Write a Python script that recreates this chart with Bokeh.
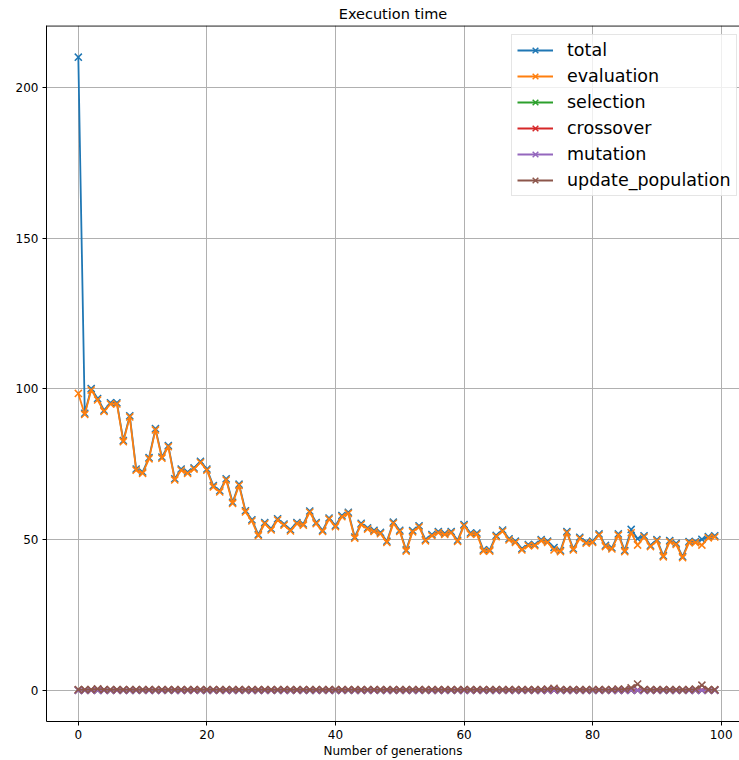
from bokeh.plotting import figure
from bokeh.models import Range1d, FixedTicker, Span, Legend
from bokeh.embed import file_html
from bokeh.resources import INLINE

generations = list(range(100))

total = [210.0, 91.9, 100.1, 96.8, 92.9, 95.4, 95.4, 82.9, 91.1, 73.4,
         72.4, 77.2, 86.8, 77.4, 81.2, 70.2, 73.4, 72.4, 73.8, 76.0,
         73.4, 67.9, 66.2, 70.2, 62.4, 68.4, 59.6, 56.6, 51.7, 55.7,
         53.6, 56.9, 55.2, 53.3, 55.7, 55.2, 59.5, 55.7, 53.1, 57.2,
         54.7, 58.0, 59.1, 50.9, 55.4, 53.9, 53.1, 52.4, 49.5, 55.8,
         53.1, 46.6, 53.0, 54.6, 50.0, 51.7, 52.7, 52.1, 52.7, 49.8,
         55.0, 52.2, 52.2, 46.6, 46.6, 51.4, 53.2, 50.3, 49.5, 47.0,
         48.4, 48.4, 50.0, 49.5, 47.4, 46.4, 52.7, 47.0, 50.8, 49.2,
         49.5, 51.9, 48.1, 47.3, 51.9, 46.4, 53.4, 50.3, 51.3, 48.1,
         50.0, 44.7, 49.7, 48.8, 44.4, 49.4, 49.4, 50.1, 51.0, 51.3]

evaluation = [98.5, 91.5, 99.6, 96.3, 92.5, 95.0, 95.0, 82.5, 90.7, 73.0,
              72.0, 76.8, 86.4, 77.0, 80.8, 69.8, 73.0, 72.0, 73.4, 75.6,
              73.0, 67.5, 65.8, 69.8, 62.0, 68.0, 59.2, 56.2, 51.3, 55.3,
              53.2, 56.5, 54.8, 52.9, 55.3, 54.8, 59.1, 55.3, 52.7, 56.8,
              54.3, 57.6, 58.7, 50.5, 55.0, 53.5, 52.7, 52.0, 49.1, 55.4,
              52.7, 46.2, 52.6, 54.2, 49.6, 51.3, 52.3, 51.7, 52.3, 49.4,
              54.6, 51.8, 51.8, 46.2, 46.2, 51.0, 52.8, 49.9, 49.1, 46.6,
              48.0, 48.0, 49.6, 49.1, 46.6, 46.0, 52.3, 46.6, 50.4, 48.8,
              49.1, 51.5, 47.7, 46.9, 51.5, 46.0, 52.3, 48.2, 50.9, 47.7,
              49.6, 44.3, 49.3, 48.4, 44.0, 49.0, 49.0, 48.2, 50.6, 50.9]

selection = [0.06, 0.05, 0.06, 0.06, 0.05, 0.06, 0.06, 0.05, 0.06, 0.06,
             0.05, 0.06, 0.06, 0.05, 0.06, 0.05, 0.06, 0.06, 0.05, 0.06,
             0.06, 0.05, 0.06, 0.05, 0.06, 0.06, 0.05, 0.06, 0.06, 0.05,
             0.06, 0.05, 0.06, 0.06, 0.05, 0.06, 0.05, 0.06, 0.06, 0.05,
             0.06, 0.06, 0.05, 0.06, 0.05, 0.06, 0.06, 0.05, 0.06, 0.06,
             0.05, 0.06, 0.06, 0.05, 0.06, 0.05, 0.06, 0.06, 0.05, 0.06,
             0.06, 0.05, 0.06, 0.05, 0.06, 0.06, 0.05, 0.06, 0.06, 0.05,
             0.06, 0.05, 0.06, 0.06, 0.05, 0.06, 0.05, 0.06, 0.06, 0.05,
             0.06, 0.06, 0.05, 0.06, 0.05, 0.06, 0.06, 0.05, 0.06, 0.06,
             0.05, 0.06, 0.06, 0.05, 0.06, 0.05, 0.06, 0.06, 0.05, 0.06]

crossover = [0.12, 0.11, 0.12, 0.13, 0.11, 0.12, 0.12, 0.11, 0.12, 0.13,
             0.12, 0.11, 0.12, 0.12, 0.13, 0.11, 0.12, 0.12, 0.11, 0.12,
             0.13, 0.12, 0.11, 0.12, 0.12, 0.13, 0.11, 0.12, 0.12, 0.11,
             0.12, 0.13, 0.12, 0.11, 0.12, 0.12, 0.13, 0.11, 0.12, 0.12,
             0.11, 0.12, 0.13, 0.12, 0.11, 0.12, 0.12, 0.13, 0.11, 0.12,
             0.12, 0.11, 0.12, 0.13, 0.12, 0.11, 0.12, 0.12, 0.13, 0.11,
             0.12, 0.12, 0.11, 0.12, 0.13, 0.12, 0.11, 0.12, 0.12, 0.13,
             0.11, 0.12, 0.12, 0.11, 0.12, 0.13, 0.12, 0.11, 0.12, 0.12,
             0.13, 0.11, 0.12, 0.12, 0.11, 0.12, 0.13, 0.12, 0.11, 0.12,
             0.12, 0.13, 0.11, 0.12, 0.12, 0.11, 0.12, 0.13, 0.12, 0.11]

mutation = [0.04, 0.04, 0.05, 0.04, 0.04, 0.04, 0.05, 0.04, 0.04, 0.04,
            0.05, 0.04, 0.04, 0.04, 0.05, 0.04, 0.04, 0.04, 0.05, 0.04,
            0.04, 0.04, 0.05, 0.04, 0.04, 0.04, 0.05, 0.04, 0.04, 0.04,
            0.05, 0.04, 0.04, 0.04, 0.05, 0.04, 0.04, 0.04, 0.05, 0.04,
            0.04, 0.04, 0.05, 0.04, 0.04, 0.04, 0.05, 0.04, 0.04, 0.04,
            0.05, 0.04, 0.04, 0.04, 0.05, 0.04, 0.04, 0.04, 0.05, 0.04,
            0.04, 0.04, 0.05, 0.04, 0.04, 0.04, 0.05, 0.04, 0.04, 0.04,
            0.05, 0.04, 0.04, 0.04, 0.05, 0.04, 0.04, 0.04, 0.05, 0.04,
            0.04, 0.04, 0.05, 0.04, 0.04, 0.04, 0.05, 0.04, 0.04, 0.04,
            0.05, 0.04, 0.04, 0.04, 0.05, 0.04, 0.04, 0.04, 0.05, 0.04]

update_population = [0.30, 0.28, 0.31, 0.52, 0.29, 0.30, 0.32, 0.28, 0.30, 0.29,
                     0.31, 0.30, 0.29, 0.30, 0.28, 0.31, 0.30, 0.29, 0.30, 0.31,
                     0.29, 0.30, 0.28, 0.30, 0.31, 0.29, 0.30, 0.30, 0.28, 0.31,
                     0.30, 0.29, 0.30, 0.31, 0.28, 0.30, 0.29, 0.30, 0.31, 0.29,
                     0.30, 0.28, 0.30, 0.31, 0.29, 0.30, 0.30, 0.28, 0.31, 0.29,
                     0.30, 0.29, 0.31, 0.30, 0.28, 0.30, 0.29, 0.31, 0.30, 0.29,
                     0.30, 0.31, 0.28, 0.30, 0.29, 0.30, 0.31, 0.29, 0.30, 0.28,
                     0.30, 0.29, 0.31, 0.45, 0.72, 0.30, 0.29, 0.30, 0.31, 0.28,
                     0.30, 0.29, 0.30, 0.31, 0.45, 0.40, 0.85, 2.10, 0.30, 0.29,
                     0.30, 0.31, 0.29, 0.30, 0.28, 0.30, 0.45, 1.75, 0.30, 0.29]

series_names = ["total", "evaluation", "selection", "crossover", "mutation", "update_population"]
series_values = [total, evaluation, selection, crossover, mutation, update_population]
colors = ["#1f77b4", "#ff7f0e", "#2ca02c", "#d62728", "#9467bd", "#8c564b"]

x_ticks = [0, 20, 40, 60, 80, 100]
y_ticks = [0, 50, 100, 150, 200]

FONT = "DejaVu Sans"

p = figure(width=739, height=760, output_backend="svg", toolbar_location=None,
           x_range=Range1d(-4.95, 102.85), y_range=Range1d(-10.3, 220.5),
           min_border_left=46, min_border_right=0, min_border_top=25, min_border_bottom=39)

p.title.text = "Execution time"
p.title.align = "center"
p.title.text_font = FONT
p.title.text_font_size = "14.5px"
p.title.text_font_style = "normal"
p.title.text_color = "black"
p.title.offset = 4
p.title.standoff = 7

p.outline_line_color = None
p.background_fill_color = "white"

for ax in (p.xaxis[0], p.yaxis[0]):
    ax.axis_line_color = "black"
    ax.axis_line_width = 1
    ax.major_tick_line_color = "black"
    ax.major_tick_out = 4
    ax.major_tick_in = 0
    ax.minor_tick_line_color = None
    ax.major_label_text_font = FONT
    ax.major_label_text_font_size = "12px"
    ax.major_label_text_color = "black"
    ax.major_label_standoff = 4

p.xaxis[0].ticker = FixedTicker(ticks=x_ticks)
p.yaxis[0].ticker = FixedTicker(ticks=y_ticks)
p.xaxis[0].axis_label = "Number of generations"
p.xaxis[0].axis_label_text_font = FONT
p.xaxis[0].axis_label_text_font_size = "12px"
p.xaxis[0].axis_label_text_font_style = "normal"
p.xaxis[0].axis_label_text_color = "black"
p.xaxis[0].axis_label_standoff = 2

p.xgrid.ticker = FixedTicker(ticks=x_ticks)
p.ygrid.ticker = FixedTicker(ticks=y_ticks)
for g in (p.xgrid[0], p.ygrid[0]):
    g.grid_line_color = "#b0b0b0"
    g.grid_line_width = 1

# top spine
p.add_layout(Span(location=220.4, dimension="width", line_color="black", line_width=1.2))

items = []
for name, vals, c in zip(series_names, series_values, colors):
    r1 = p.line(generations, vals, line_color=c, line_width=1.8)
    r2 = p.scatter(generations, vals, marker="x", size=10, line_color=c, line_width=1.5)
    items.append((name, [r1, r2]))

legend = Legend(items=items, location=(465, 525))
legend.label_text_font = FONT
legend.label_text_font_size = "17.5px"
legend.label_text_color = "black"
legend.glyph_width = 36
legend.glyph_height = 20
legend.label_height = 20
legend.spacing = 6
legend.padding = 5
legend.margin = 0
legend.label_standoff = 14
legend.border_line_color = "#cccccc"
legend.border_line_width = 1
legend.background_fill_color = "white"
legend.background_fill_alpha = 0.8
p.add_layout(legend, "center")

open("out.html", "w").write(file_html(p, INLINE))
